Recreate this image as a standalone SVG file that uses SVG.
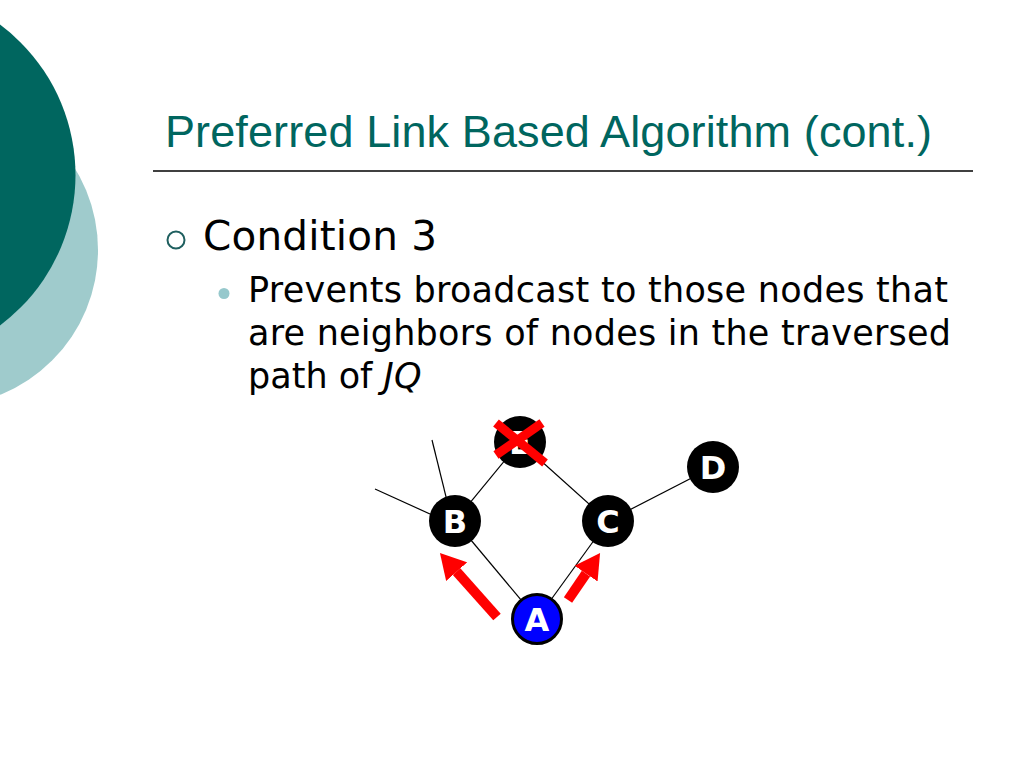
<svg xmlns="http://www.w3.org/2000/svg" width="1024" height="768" viewBox="0 0 1024 768">
<style>
.title{font-family:"Liberation Sans",Arial,sans-serif;font-size:45px;fill:#00665f}
.body{font-family:"DejaVu Sans",Verdana,sans-serif;fill:#000}
.edge{stroke:#000;stroke-width:1.2;fill:none}
.node{fill:#000}
.lbl{font-family:"DejaVu Sans",Verdana,sans-serif;font-weight:bold;font-size:32px;fill:#fff;text-anchor:middle}
.red{stroke:#ff0000;fill:none}
</style>
<defs>
<marker id="ah" markerUnits="userSpaceOnUse" markerWidth="26" markerHeight="28" refX="0" refY="14" orient="auto" viewBox="0 0 26 28">
<path d="M0,0 L25,14 L0,28 z" fill="#ff0000"/>
</marker>
</defs>
<rect width="1024" height="768" fill="#fff"/>
<circle cx="-58" cy="250" r="156" fill="#9fcbcc"/>
<circle cx="-112" cy="175" r="187.5" fill="#00665f"/>
<text class="title" x="165" y="147" textLength="767">Preferred Link Based Algorithm (cont.)</text>
<line x1="153" y1="171" x2="973" y2="171" stroke="#000" stroke-width="1.5"/>
<circle cx="176" cy="240" r="8.5" fill="#fff" stroke="#1f5f5f" stroke-width="2"/>
<text class="body" x="203" y="250" font-size="40.5" textLength="234">Condition 3</text>
<circle cx="224" cy="293.5" r="5.5" fill="#96c8cc"/>
<text class="body" font-size="35">
<tspan x="248" y="302" textLength="700">Prevents broadcast to those nodes that</tspan>
<tspan x="248" y="345" textLength="703">are neighbors of nodes in the traversed</tspan>
<tspan x="248" y="388">path of <tspan font-style="italic">JQ</tspan></tspan>
</text>
<g id="connectors">
<line class="edge" x1="432" y1="440" x2="452" y2="521"/>
<line class="edge" x1="375" y1="489" x2="452" y2="524"/>
<line class="edge" x1="455" y1="521" x2="520" y2="442"/>
<line class="edge" x1="520" y1="442" x2="608" y2="521"/>
<line class="edge" x1="608" y1="521" x2="713" y2="467"/>
<line class="edge" x1="455" y1="521" x2="537" y2="619"/>
<line class="edge" x1="608" y1="521" x2="537" y2="619"/>
</g>
<g id="node-E">
<circle class="node" cx="520" cy="442" r="26"/>
<text class="lbl" x="520" y="453.5">E</text>
</g>
<g id="node-B">
<circle class="node" cx="455" cy="521" r="26"/>
<text class="lbl" x="455" y="532.5">B</text>
</g>
<g id="node-C">
<circle class="node" cx="608" cy="521" r="26"/>
<text class="lbl" x="608" y="532.5">C</text>
</g>
<g id="node-D">
<circle class="node" cx="713" cy="467" r="26"/>
<text class="lbl" x="713" y="478.5">D</text>
</g>
<g id="node-A">
<circle cx="537" cy="619" r="24.5" fill="#0000ff" stroke="#000" stroke-width="3"/>
<text class="lbl" x="537" y="630.5">A</text>
</g>
<g id="cross">
<line class="red" x1="496" y1="423" x2="545" y2="463" stroke-width="9"/>
<line class="red" x1="496" y1="455" x2="542" y2="423" stroke-width="9"/>
</g>
<g id="arrows">
<line class="red" x1="497" y1="617" x2="456.6" y2="571.7" stroke-width="10" marker-end="url(#ah)"/>
<line class="red" x1="568" y1="600" x2="586" y2="573.6" stroke-width="10" marker-end="url(#ah)"/>
</g>
</svg>
